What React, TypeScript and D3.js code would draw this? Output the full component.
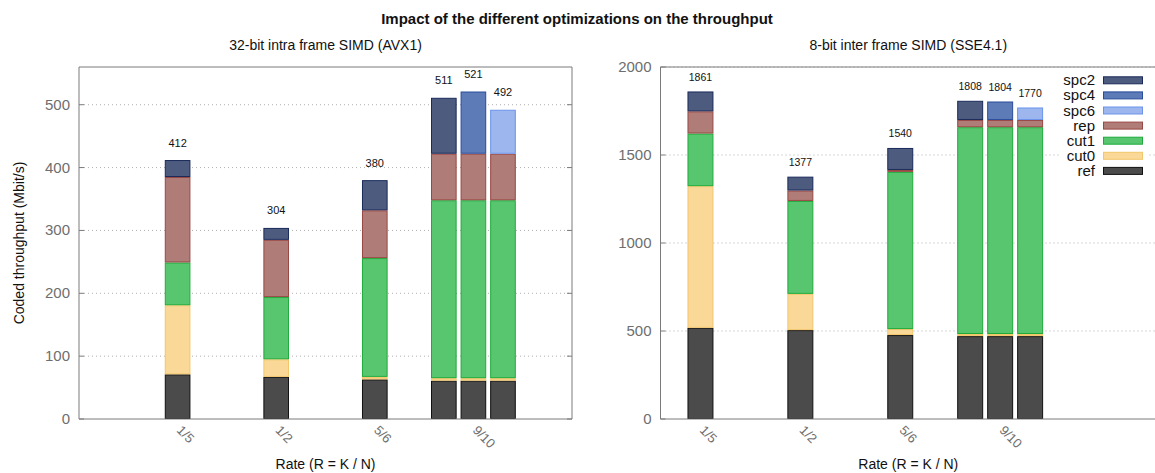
import React from "react";
import * as d3 from "d3";

// ---- data (cumulative throughput after each optimization, Mbit/s) ----
const rates = ["1/5", "1/2", "5/6", "9/10"];

const avxRef = [71, 67, 63, 61];
const avxCut0 = [181, 95, 67, 65];
const avxCut1 = [249, 194, 256, 348];
const avxRep = [385, 285, 332, 422];
const avxSpc2 = [412, 304, 380, 511];
const avxSpc4 = [null, null, null, 521];
const avxSpc6 = [null, null, null, 492];

const sseRef = [518, 505, 477, 471];
const sseCut0 = [1323, 711, 511, 483];
const sseCut1 = [1622, 1239, 1404, 1658];
const sseRep = [1748, 1298, 1415, 1699];
const sseSpc2 = [1861, 1377, 1540, 1808];
const sseSpc4 = [null, null, null, 1804];
const sseSpc6 = [null, null, null, 1770];

const avxTicks = [0, 100, 200, 300, 400, 500];
const sseTicks = [0, 500, 1000, 1500, 2000];

const legendKeys = ["spc2", "spc4", "spc6", "rep", "cut1", "cut0", "ref"];

const COLORS: Record<string, { fill: string; stroke: string }> = {
  ref: { fill: "#4b4b4b", stroke: "#111111" },
  cut0: { fill: "#fad898", stroke: "#f2c66a" },
  cut1: { fill: "#57c66e", stroke: "#1fab3c" },
  rep: { fill: "#b07c77", stroke: "#984844" },
  spc2: { fill: "#4d5b7e", stroke: "#1a2a5a" },
  spc4: { fill: "#5d7bb7", stroke: "#2a4c9c" },
  spc6: { fill: "#9db7ee", stroke: "#6b93ea" },
};

const FONT = "'Liberation Sans', Arial, Helvetica, sans-serif";

type Series = {
  ref: number[];
  cut0: number[];
  cut1: number[];
  rep: number[];
  spc2: number[];
  spc4: (number | null)[];
  spc6: (number | null)[];
};

type PanelProps = {
  left: number;
  right: number;
  top: number;
  bottom: number;
  xDomain: [number, number];
  yMax: number;
  ticks: number[];
  s: Series;
  subtitle: string;
  labelFont: number;
  labelOffset: number;
  drawRight: boolean;
};

function Panel(p: PanelProps) {
  const x = d3.scaleLinear().domain(p.xDomain).range([p.left, p.right]);
  const y = d3.scaleLinear().domain([0, p.yMax]).range([p.bottom, p.top]);
  const bw = x(0.26) - x(0);
  const bars: { cx: number; top: string; topVal: number; i: number }[] = [];
  rates.forEach((_, i) => {
    const pos = i + 1;
    const variants: [string, (number | null)[]][] = [
      ["spc2", p.s.spc2],
      ["spc4", p.s.spc4],
      ["spc6", p.s.spc6],
    ];
    const present = variants.filter(([, arr]) => arr[i] != null);
    present.forEach(([key, arr], k) => {
      const off = present.length === 1 ? 0 : (k - (present.length - 1) / 2) * 0.3;
      bars.push({ cx: x(pos + off), top: key, topVal: arr[i] as number, i });
    });
  });
  const midX = (p.left + p.right) / 2;
  const midY = (p.top + p.bottom) / 2;
  return (
    <g>
      {/* grid */}
      {p.ticks.slice(1).map((t) => (
        <line
          key={"g" + t}
          x1={p.left + 5}
          x2={p.right}
          y1={y(t)}
          y2={y(t)}
          stroke="#b0b0b0"
          strokeWidth={1}
          strokeDasharray="1 3"
        />
      ))}
      {/* bars */}
      {bars.map((b, j) => {
        const levels: [string, number][] = [
          ["ref", p.s.ref[b.i]],
          ["cut0", p.s.cut0[b.i]],
          ["cut1", p.s.cut1[b.i]],
          ["rep", p.s.rep[b.i]],
          [b.top, b.topVal],
        ];
        let prev = 0;
        return (
          <g key={"b" + j}>
            {levels.map(([key, v]) => {
              const y0 = y(prev);
              const y1 = y(v);
              prev = v;
              const c = COLORS[key];
              return (
                <rect
                  key={key}
                  x={b.cx - bw / 2 + 0.5}
                  y={y1 + 0.5}
                  width={bw - 1}
                  height={Math.max(0, y0 - y1 - 1)}
                  fill={c.fill}
                  stroke={c.stroke}
                  strokeWidth={1}
                />
              );
            })}
            <text
              x={b.cx}
              y={y(b.topVal) - p.labelOffset}
              textAnchor="middle"
              fontSize={p.labelFont}
              fontFamily={FONT}
              fill="#111"
            >
              {b.topVal}
            </text>
          </g>
        );
      })}
      {/* frame */}
      <line x1={p.left} x2={p.left} y1={p.top} y2={p.bottom} stroke="#7a7a7a" />
      <line x1={p.left} x2={p.right} y1={p.bottom} y2={p.bottom} stroke="#7a7a7a" />
      <line x1={p.left} x2={p.right} y1={p.top} y2={p.top} stroke="#7a7a7a" />
      {p.drawRight && <line x1={p.right} x2={p.right} y1={p.top} y2={p.bottom} stroke="#7a7a7a" />}
      {/* y ticks */}
      {p.ticks.map((t) => (
        <g key={"t" + t}>
          <line x1={p.left} x2={p.left + 5} y1={y(t)} y2={y(t)} stroke="#7a7a7a" />
          {p.drawRight && <line x1={p.right - 5} x2={p.right} y1={y(t)} y2={y(t)} stroke="#7a7a7a" />}
          <text
            x={p.left - 9}
            y={y(t) + 5}
            textAnchor="end"
            fontSize={15}
            fontFamily={FONT}
            fill="#6e6e6e"
          >
            {t}
          </text>
        </g>
      ))}
      {/* x tick labels */}
      {rates.map((r, i) => {
        const px = x(i + 1) - 1.5;
        const py = p.bottom + 12;
        return (
          <text
            key={r}
            x={px}
            y={py}
            transform={`rotate(45 ${px} ${py})`}
            fontSize={13}
            fontFamily={FONT}
            fill="#6e6e6e"
          >
            {r}
          </text>
        );
      })}
      <text x={midX} y={469} textAnchor="middle" fontSize={14} fontFamily={FONT} fill="#111">
        Rate (R = K / N)
      </text>
      <text x={midX} y={50} textAnchor="middle" fontSize={14} fontFamily={FONT} fill="#111">
        {p.subtitle}
      </text>
    </g>
  );
}

export default function App() {
  const top = 67;
  const bottom = 419;
  const legendY0 = 80.3;
  const legendStep = 15.1;
  return (
    <svg
      width={1155}
      height={473}
      style={{ position: "absolute", left: 0, top: 0, background: "#fff" }}
    >
      <rect x={0} y={0} width={1155} height={473} fill="#fff" />
      <text
        x={577}
        y={24}
        textAnchor="middle"
        fontSize={15}
        fontWeight="bold"
        fontFamily={FONT}
        fill="#111"
      >
        Impact of the different optimizations on the throughput
      </text>
      <Panel
        left={79}
        right={572}
        top={top}
        bottom={bottom}
        xDomain={[0, 5]}
        yMax={560}
        ticks={avxTicks}
        s={{ ref: avxRef, cut0: avxCut0, cut1: avxCut1, rep: avxRep, spc2: avxSpc2, spc4: avxSpc4, spc6: avxSpc6 }}
        subtitle="32-bit intra frame SIMD (AVX1)"
        labelFont={11}
        labelOffset={13.5}
        drawRight={true}
      />
      <Panel
        left={660.5}
        right={1156}
        top={top}
        bottom={bottom}
        xDomain={[0.6, 5.56]}
        yMax={2000}
        ticks={sseTicks}
        s={{ ref: sseRef, cut0: sseCut0, cut1: sseCut1, rep: sseRep, spc2: sseSpc2, spc4: sseSpc4, spc6: sseSpc6 }}
        subtitle="8-bit inter frame SIMD (SSE4.1)"
        labelFont={10.5}
        labelOffset={10.5}
        drawRight={false}
      />
      <text
        x={24}
        y={(top + bottom) / 2}
        transform={`rotate(-90 24 ${(top + bottom) / 2})`}
        textAnchor="middle"
        fontSize={14}
        fontFamily={FONT}
        fill="#111"
      >
        Coded throughput (Mbit/s)
      </text>
      {/* legend */}
      <rect x={1060} y={71} width={88} height={108} fill="#fff" />
      {legendKeys.map((k, i) => {
        const cy = legendY0 + i * legendStep;
        return (
          <g key={k}>
            <text x={1095} y={cy + 5} textAnchor="end" fontSize={15} fontFamily={FONT} fill="#111">
              {k}
            </text>
            <rect
              x={1103.5}
              y={cy - 3.5}
              width={39}
              height={7}
              fill={COLORS[k].fill}
              stroke={COLORS[k].stroke}
              strokeWidth={1}
            />
          </g>
        );
      })}
    </svg>
  );
}
